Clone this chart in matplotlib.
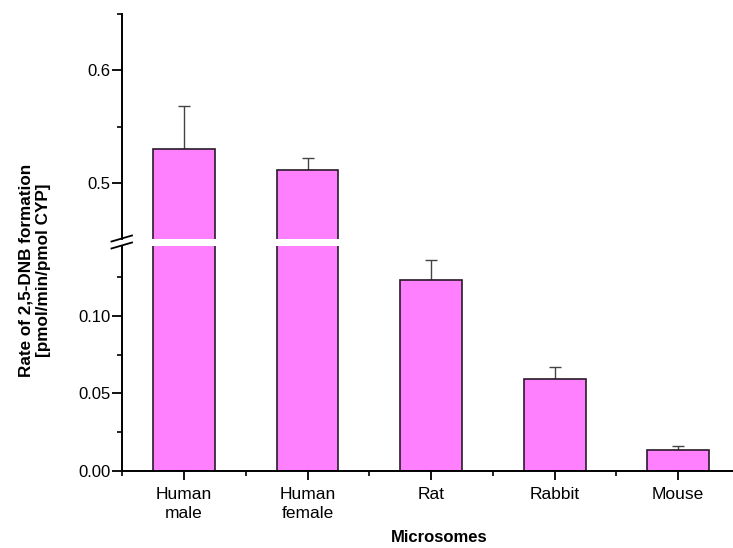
import numpy as np
import matplotlib
matplotlib.use("Agg")
from matplotlib import pyplot as plt

plt.rcParams['font.family'] = ['Liberation Sans', 'DejaVu Sans']

species = ["Human\nmale", "Human\nfemale", "Rat", "Rabbit", "Mouse"]
rates = [0.530, 0.511, 0.1233, 0.0595, 0.0136]
sem = [0.038, 0.011, 0.0132, 0.0076, 0.0022]

barColor = "#ff80ff"
edgeColor = "#2a1a2a"

fig = plt.figure(figsize=(7.33, 5.48), dpi=100)
left = 122.3 / 733
width = (740 - 122.3) / 733
axLow = fig.add_axes([left, 1 - 470.7 / 548, width, 224.7 / 548])
axHigh = fig.add_axes([left, 1 - 239 / 548, width, 224.7 / 548])

x = np.arange(1, len(species) + 1)
zeros = np.zeros(len(sem))
for ax in (axLow, axHigh):
	ax.bar(x, rates, width=0.5, color=barColor, edgecolor=edgeColor, linewidth=1.2, zorder=2)
	ax.errorbar(x, rates, yerr=[zeros, sem], fmt="none", ecolor="#444444",
		elinewidth=1.0, capsize=4, capthick=1.0, zorder=1)
	ax.set_xlim(0.5, 5.5)
	for side in ("top", "right"):
		ax.spines[side].set_visible(False)
	ax.spines["left"].set_linewidth(1.4)
	ax.tick_params(axis="y", which="major", length=7, width=1.3, labelsize=12, pad=1.5)
	ax.tick_params(axis="y", which="minor", length=3.5, width=1.2)

axLow.set_ylim(0, 0.1453)
axLow.set_yticks([0.0, 0.05, 0.10])
axLow.set_yticklabels(["0.00", "0.05", "0.10"])
axLow.set_yticks([0.025, 0.075, 0.125], minor=True)
axLow.spines["bottom"].set_linewidth(1.4)
axLow.set_xticks(x)
axLow.set_xticklabels(species, fontsize=12.5, linespacing=1.3)
axLow.set_xticks(np.arange(0.5, 5.6, 1.0), minor=True)
axLow.tick_params(axis="x", which="major", length=6.5, width=1.3, pad=5.5)
axLow.tick_params(axis="x", which="minor", length=3.5, width=1.2)

axHigh.set_ylim(0.45, 0.65)
axHigh.set_yticks([0.5, 0.6])
axHigh.set_yticklabels(["0.5", "0.6"])
axHigh.set_yticks([0.55, 0.65], minor=True)
axHigh.spines["bottom"].set_visible(False)
axHigh.set_xticks([])
axHigh.patch.set_alpha(0)

# break marks on the y axis
for yPix in (238.5, 245.5):
	yf = 1 - yPix / 548
	fig.add_artist(plt.Line2D([111.5 / 733, 132 / 733], [yf - 3 / 548, yf + 3 / 548],
		color="black", linewidth=1.3, transform=fig.transFigure))

fig.text(35 / 733, 1 - 270 / 548, "Rate of 2,5-DNB formation\n[pmol/min/pmol CYP]",
	rotation=90, ha="center", va="center", fontsize=12.3, fontweight="bold", linespacing=1.2)
fig.text(439.5 / 733, 1 - 538 / 548, "Microsomes", ha="center", va="center",
	fontsize=12, fontweight="bold")

fig.savefig("out.png", dpi=100)
